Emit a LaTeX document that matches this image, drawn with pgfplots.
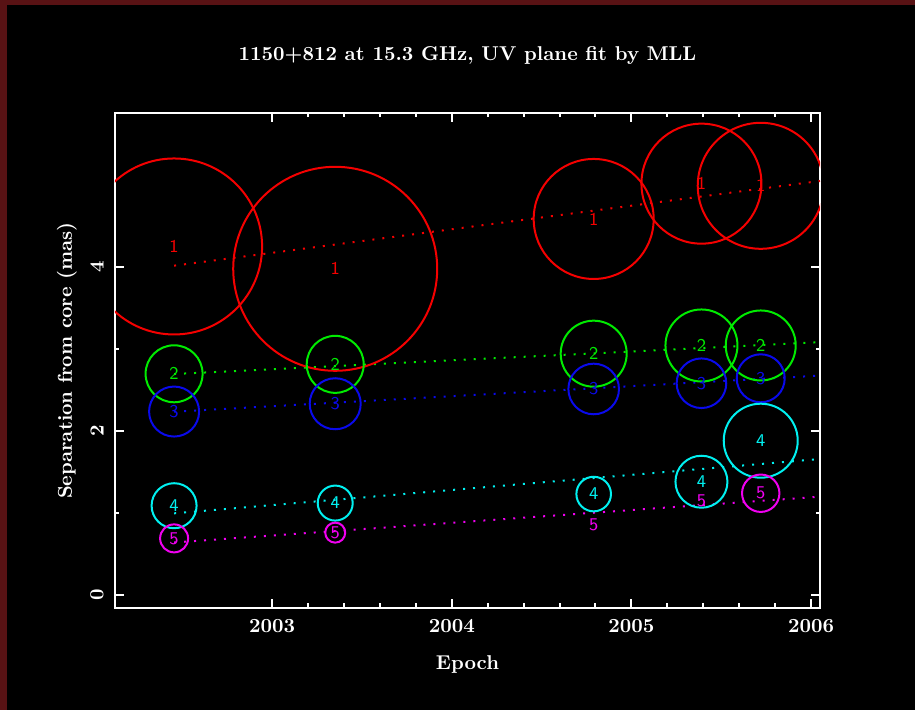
\documentclass[border=0pt]{standalone}
\usepackage{pgfplots}
\usepackage{pgfplotstable}
\pgfplotsset{compat=1.18}
\definecolor{framered}{RGB}{88,18,20}
\definecolor{cgreen}{RGB}{0,235,0}
\definecolor{cblue}{RGB}{10,10,235}
\definecolor{ccyan}{RGB}{0,240,240}
\definecolor{cmag}{RGB}{240,0,240}
\definecolor{cred}{RGB}{245,0,0}

% x = epoch, y = separation (mas), r = circle radius (px of reference; 1px = 0.5pt)
\pgfplotstableread{
x y r
2002.454 4.246 88
2003.351 3.974 102
2004.790 4.581 60
2005.390 5.011 60
2005.720 4.985 63
}\compone
\pgfplotstableread{
x y r
2002.454 2.695 28.5
2003.351 2.810 28.5
2004.790 2.940 33
2005.390 3.040 36
2005.720 3.040 35
}\comptwo
\pgfplotstableread{
x y r
2002.454 2.235 25
2003.351 2.330 25.5
2004.790 2.510 25.3
2005.390 2.580 24.8
2005.720 2.640 24
}\compthree
\pgfplotstableread{
x y r
2002.454 1.088 22.5
2003.351 1.120 17.5
2004.790 1.230 17.3
2005.390 1.380 26
2005.720 1.880 37
}\compfour
\pgfplotstableread{
x y r
2002.454 0.690 14
2003.351 0.760 10
2005.720 1.240 18.7
}\compfive
\pgfplotstableread{
x y
2002.454 0.690
2003.351 0.760
2004.790 0.861
2005.390 1.145
2005.720 1.240
}\compfivelab

\pgfplotsset{
  circ/.style={only marks, mark=o, scatter, point meta=\thisrow{r},
    scatter/use mapped color={draw=#1, fill=none},
    visualization depends on={0.5*\thisrow{r} \as \perpointmarksize},
    scatter/@pre marker code/.append style={/tikz/mark size=\perpointmarksize},
    mark options={line width=1pt},
  },
  lab/.style 2 args={draw=none, mark=none, nodes near coords={#2},
    every node near coord/.append style={anchor=center, text=#1, inner sep=0pt,
      font=\sffamily\fontsize{9}{9}\selectfont},
  },
  fit/.style={#1, line width=1pt, dash pattern=on 1pt off 4pt},
}

\begin{document}
\begin{tikzpicture}
\fill[framered] (0,0) rectangle (457.5pt,355pt);
\fill[black] (3.5pt,0) rectangle (457.5pt,352.5pt);
\begin{axis}[
  at={(57.5pt,51pt)}, anchor=south west,
  scale only axis, width=352.5pt, height=247.5pt,
  xmin=2002.125, xmax=2006.05, ymin=-0.158, ymax=5.872,
  xtick={2003,2004,2005,2006}, xticklabels={2003,2004,2005,2006},
  minor x tick num=4,
  ytick={0,2,4}, yticklabels={0,2,4},
  minor y tick num=1,
  tick align=inside,
  major tick length=4.5pt, minor tick length=2.25pt,
  axis line style={white, line width=1pt},
  tick style={white, line width=1pt},
  tick label style={text=white, font=\bfseries},
  xticklabel style={anchor=center, yshift=-9pt},
  yticklabel style={anchor=center, xshift=-9pt, rotate=90},
  title={1150+812 at 15.3 GHz, UV plane fit by MLL},
  title style={at={(axis description cs:0.5,1)}, anchor=center, yshift=22.5pt, text=white, font=\bfseries},
  xlabel={Epoch},
  xlabel style={at={(axis description cs:0.5,0)}, anchor=center, yshift=-28.5pt, text=white, font=\bfseries},
  ylabel={Separation from core (mas)},
  ylabel style={at={(axis description cs:-0.0681,0.5)}, anchor=center, text=white, font=\bfseries},
  clip marker paths=true,
]
\addplot[fit=cred] coordinates {(2002.454,4.012) (2006.05,5.044)};
\addplot[fit=cgreen] coordinates {(2002.454,2.692) (2006.05,3.080)};
\addplot[fit=cblue] coordinates {(2002.454,2.233) (2006.05,2.673)};
\addplot[fit=ccyan] coordinates {(2002.454,0.995) (2006.05,1.657)};
\addplot[fit=cmag] coordinates {(2002.454,0.640) (2006.05,1.198)};

\addplot[circ=cred] table {\compone};
\addplot[circ=cgreen] table {\comptwo};
\addplot[circ=cblue] table {\compthree};
\addplot[circ=ccyan] table {\compfour};
\addplot[circ=cmag] table {\compfive};

\addplot[lab={cred}{1}] table {\compone};
\addplot[lab={cgreen}{2}] table {\comptwo};
\addplot[lab={cblue}{3}] table {\compthree};
\addplot[lab={ccyan}{4}] table {\compfour};
\addplot[lab={cmag}{5}] table {\compfivelab};
\end{axis}
\end{tikzpicture}
\end{document}
